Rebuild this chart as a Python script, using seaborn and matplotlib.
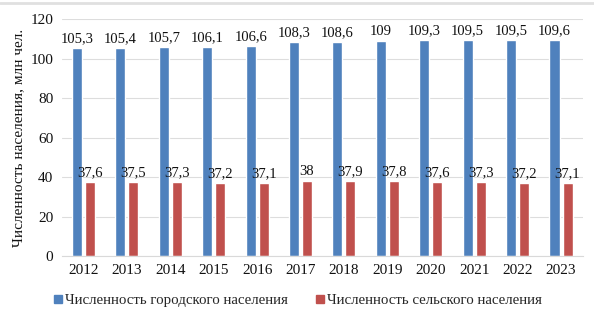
import matplotlib
matplotlib.use("Agg")
import matplotlib.pyplot as plt
import seaborn as sns
import pandas as pd
from matplotlib.lines import Line2D

years = ["2012", "2013", "2014", "2015", "2016", "2017", "2018", "2019", "2020", "2021", "2022", "2023"]
urban = [105.3, 105.4, 105.7, 106.1, 106.6, 108.3, 108.6, 109.0, 109.3, 109.5, 109.5, 109.6]
rural = [37.6, 37.5, 37.3, 37.2, 37.1, 38.0, 37.9, 37.8, 37.6, 37.3, 37.2, 37.1]
series = ["Численность городского населения", "Численность сельского населения"]
colors = ["#4F81BD", "#C0504D"]
yticks = [0, 20, 40, 60, 80, 100, 120]
ylabel = "Численность населения, млн чел."

df = pd.DataFrame({
    "year": years * 2,
    "value": urban + rural,
    "series": [series[0]] * len(years) + [series[1]] * len(years),
})

sns.set_style("white")
plt.rcParams["font.family"] = ["Liberation Serif", "DejaVu Serif"]
plt.rcParams["font.serif"] = ["Liberation Serif", "DejaVu Serif"]

fig = plt.figure(figsize=(5.94, 3.18), dpi=100)
ax = fig.add_axes([0.104, 0.195, 0.877, 0.745])

sns.barplot(data=df, x="year", y="value", hue="series", palette=colors,
            width=0.6, gap=0.23, ax=ax, legend=False, saturation=1)

def fmt(v):
    s = ("%.1f" % v).replace(".", ",")
    if s.endswith(",0"):
        s = s[:-2]
    return s

for cont in ax.containers:
    ax.bar_label(cont, labels=[fmt(b.get_height()) for b in cont], padding=2,
                 fontsize=10.5, color="#111111")

ax.set_ylim(0, 120)
ax.set_yticks(yticks)
ax.set_xlim(-0.5, len(years) - 0.5)
ax.yaxis.grid(True, color="#dddddd", linewidth=0.8)
ax.set_axisbelow(True)
for s in ["top", "right", "left"]:
    ax.spines[s].set_visible(False)
ax.spines["bottom"].set_color("#d9d9d9")
ax.tick_params(axis="both", length=0, labelsize=11, colors="#111111", pad=6)
ax.set_xlabel("")
ax.set_ylabel(ylabel, fontsize=11, color="#111111", labelpad=4)

handles = [Line2D([], [], marker="s", linestyle="", markersize=6, color=c) for c in colors]
fig.legend(handles, series, loc="center", bbox_to_anchor=(0.5, 0.055), ncol=2,
           frameon=False, fontsize=10.7, handletextpad=0.1, columnspacing=1.7,
           handlelength=0.8)

fig.add_artist(Line2D([0, 1], [0.99, 0.99], transform=fig.transFigure,
                      color="#e0e0e0", linewidth=2))

fig.savefig("out.png", dpi=100)
